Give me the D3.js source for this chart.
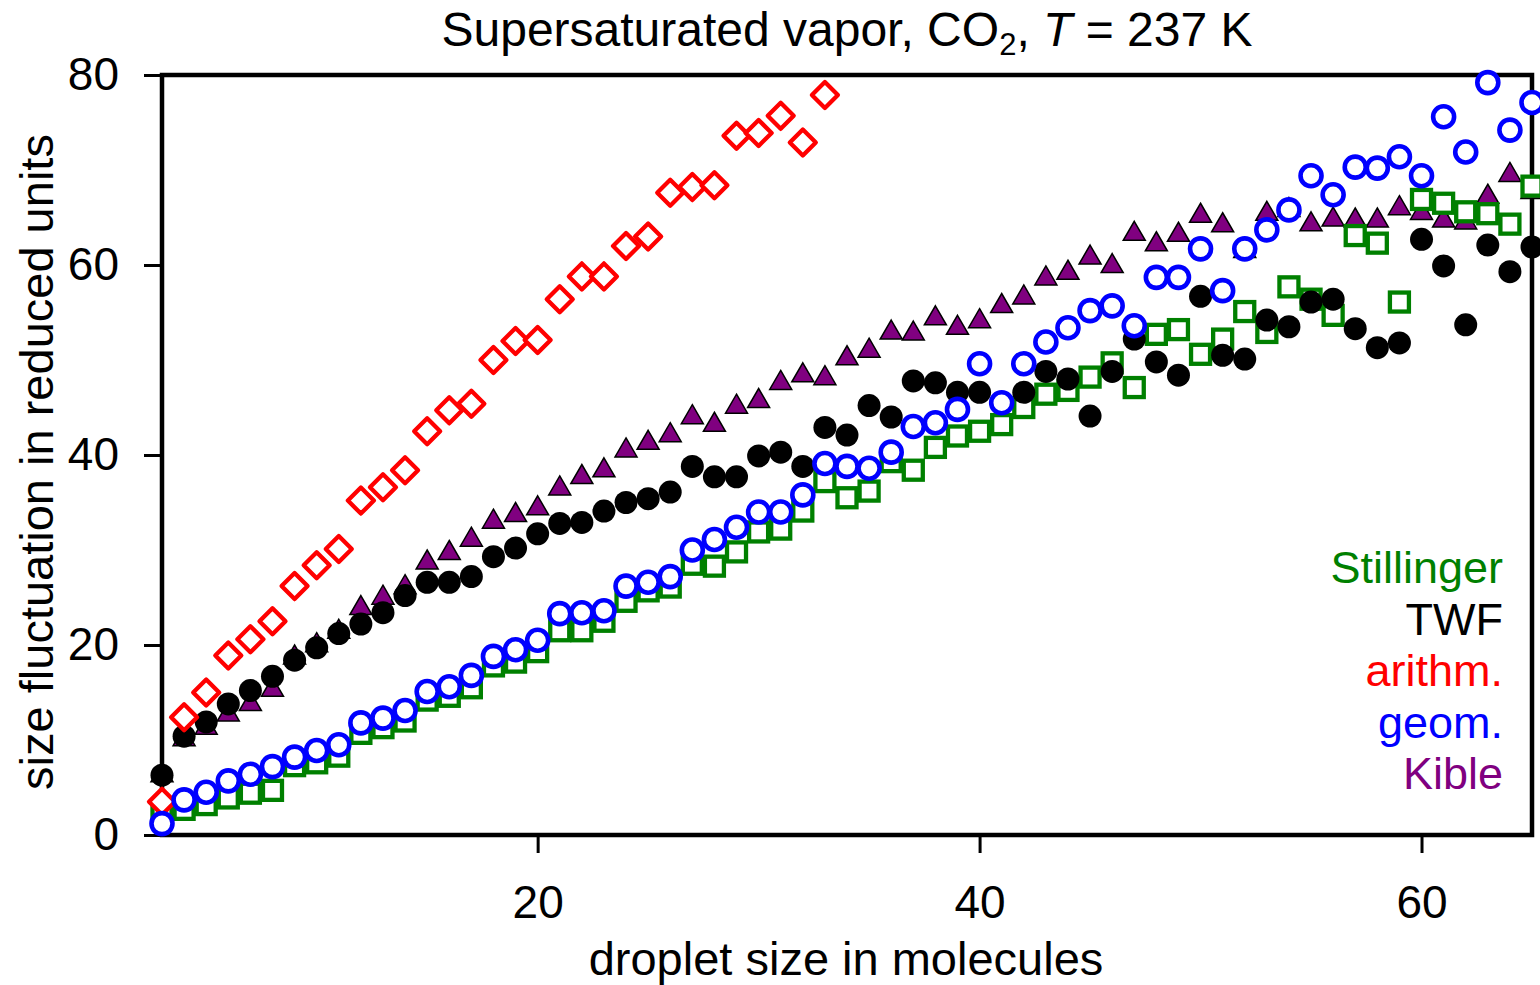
<!DOCTYPE html>
<html>
<head>
<meta charset="utf-8">
<script src="https://cdn.jsdelivr.net/npm/d3@7"></script>
<style>
  body { margin: 0; background: #fff; }
  svg text { font-family: "Liberation Sans", Arial, sans-serif; fill: #000; }
</style>
</head>
<body>
<script>
'use strict';

// droplet sizes (molecules) on the x axis
const sizes = d3.range(3, 66);
const arithmSizes = d3.range(3, 34);

// size fluctuation, reduced units
const stillinger = [2.5, 2.7, 3.2, 3.9, 4.4, 4.7, 7.3, 7.6, 8.3, 10.7, 11.3, 12.0, 14.2, 14.6, 15.5, 17.8,
  18.2, 19.3, 21.5, 21.5, 22.5, 24.6, 25.7, 26.1, 28.5, 28.3, 29.8, 31.9, 32.2, 34.1, 37.2,
  35.5, 36.2, 39.3, 38.4, 40.8, 42.0, 42.5, 43.2, 45.0, 46.4, 46.8, 48.2, 49.7, 47.1,
  52.7, 53.2, 50.6, 52.2, 55.1, 52.9, 57.7, 56.4, 54.7, 63.1, 62.3, 56.1, 66.9, 66.5, 65.6, 65.4, 64.3, 68.3];
const twf = [6.3, 10.4, 11.9, 13.8, 15.2, 16.7, 18.4, 19.7, 21.2, 22.2, 23.4, 25.2, 26.6, 26.6, 27.2, 29.3,
  30.2, 31.7, 32.8, 32.9, 34.1, 35.0, 35.4, 36.1, 38.8, 37.7, 37.7, 39.9, 40.3, 38.8, 42.9,
  42.1, 45.2, 44.0, 47.8, 47.6, 46.6, 46.6, 45.5, 46.6, 48.8, 48.0, 44.1, 48.8, 52.2,
  49.8, 48.4, 56.7, 50.5, 50.1, 54.2, 53.5, 56.1, 56.4, 53.3, 51.3, 51.8, 62.7, 59.9, 53.7, 62.1, 59.3, 61.9];
const arithm = [3.5, 12.4, 15.0, 18.9, 20.6, 22.5, 26.2, 28.4, 30.1, 35.2, 36.6, 38.4, 42.5, 44.7, 45.4, 50.0,
  52.0, 52.1, 56.4, 58.8, 58.8, 62.0, 63.0, 67.6, 68.2, 68.4, 73.6, 73.9, 75.7, 72.9, 77.9];
const geom = [1.2, 3.7, 4.5, 5.7, 6.4, 7.2, 8.2, 8.9, 9.5, 11.8, 12.3, 13.1, 15.1, 15.6, 16.8, 18.8,
  19.5, 20.5, 23.3, 23.4, 23.6, 26.2, 26.6, 27.2, 30.0, 31.1, 32.4, 34.0, 34.0, 35.8, 39.1,
  38.8, 38.6, 40.3, 43.0, 43.4, 44.8, 49.6, 45.5, 49.6, 51.9, 53.4, 55.2, 55.7, 53.6,
  58.7, 58.7, 61.7, 57.3, 61.7, 63.7, 65.8, 69.4, 67.4, 70.3, 70.2, 71.4, 69.4, 75.6, 71.9, 79.2, 74.2, 77.1];
const kible = [6.6, 10.4, 11.6, 13.0, 14.1, 15.6, 19.0, 20.3, 21.7, 24.2, 25.3, 26.4, 29.0, 30.0, 31.4, 33.3,
  34.0, 34.7, 36.8, 38.0, 38.7, 40.8, 41.6, 42.4, 44.3, 43.5, 45.4, 46.0, 47.9, 48.7, 48.4,
  50.5, 51.3, 53.2, 53.1, 54.7, 53.7, 54.4, 56.0, 56.9, 58.9, 59.5, 61.1, 60.2, 63.6,
  62.5, 63.5, 65.5, 64.5, 61.8, 65.7, 66.1, 64.6, 65.1, 65.0, 65.0, 66.3, 65.8, 65.0, 64.8, 67.5, 69.8, 68.0];

const xTicks = [20, 40, 60];
const yTicks = [0, 20, 40, 60, 80];
const legendLabels = ['Stillinger', 'TWF', 'arithm.', 'geom.', 'Kible'];
const legendColors = ['#008000', '#000000', '#ff0000', '#0000ff', '#800080'];

const width = 1540, height = 985;
const plot = { left: 162, top: 75, right: 1532, bottom: 835 };

const svg = d3.select('body').append('svg')
  .attr('width', width).attr('height', height)
  .attr('viewBox', `0 0 ${width} ${height}`)
  .attr('xmlns', 'http://www.w3.org/2000/svg');

svg.append('rect')
  .attr('width', width).attr('height', height)
  .attr('fill', '#fff');

const x = d3.scaleLinear().domain([3, 65]).range([plot.left, plot.right]);
const y = d3.scaleLinear().domain([0, 80]).range([plot.bottom, plot.top]);

// axes
const styleAxis = g => {
  g.select('.domain').remove();
  g.selectAll('.tick line').attr('stroke', '#000').attr('stroke-width', 3);
  g.selectAll('.tick text')
    .attr('font-size', 46)
    .attr('font-family', '"Liberation Sans", Arial, sans-serif')
    .attr('fill', '#000');
};

svg.append('g')
  .attr('transform', `translate(0, ${plot.bottom})`)
  .call(d3.axisBottom(x).tickValues(xTicks).tickSize(18).tickSizeOuter(0).tickPadding(32))
  .call(styleAxis);

svg.append('g')
  .attr('transform', `translate(${plot.left}, 0)`)
  .call(d3.axisLeft(y).tickValues(yTicks).tickSize(18).tickSizeOuter(0).tickPadding(25))
  .call(styleAxis);

// frame
svg.append('rect')
  .attr('x', plot.left).attr('y', plot.top)
  .attr('width', plot.right - plot.left)
  .attr('height', plot.bottom - plot.top)
  .attr('fill', 'none')
  .attr('stroke', '#000')
  .attr('stroke-width', 4.5);

// series, back to front
const pts = (xs, ys) => xs.map((n, i) => [n, ys[i]]);

svg.append('g').selectAll('path')
  .data(pts(sizes, kible))
  .join('path')
    .attr('transform', d => `translate(${x(d[0])}, ${y(d[1])})`)
    .attr('d', 'M0,-9.5L11,9.5L-11,9.5Z')
    .attr('fill', '#800080')
    .attr('stroke', '#000')
    .attr('stroke-width', 1.5)
    .attr('stroke-linejoin', 'miter');

svg.append('g').selectAll('rect')
  .data(pts(sizes, stillinger))
  .join('rect')
    .attr('x', d => x(d[0]) - 9.5)
    .attr('y', d => y(d[1]) - 9.5)
    .attr('width', 19).attr('height', 19)
    .attr('fill', '#fff')
    .attr('stroke', '#008000')
    .attr('stroke-width', 4.3);

svg.append('g').selectAll('circle')
  .data(pts(sizes, twf))
  .join('circle')
    .attr('cx', d => x(d[0]))
    .attr('cy', d => y(d[1]))
    .attr('r', 11.5)
    .attr('fill', '#000');

svg.append('g').selectAll('path')
  .data(pts(arithmSizes, arithm))
  .join('path')
    .attr('transform', d => `translate(${x(d[0])}, ${y(d[1])})`)
    .attr('d', 'M0,-13L13,0L0,13L-13,0Z')
    .attr('fill', '#fff')
    .attr('stroke', '#ff0000')
    .attr('stroke-width', 4.3)
    .attr('stroke-linejoin', 'round');

svg.append('g').selectAll('circle')
  .data(pts(sizes, geom))
  .join('circle')
    .attr('cx', d => x(d[0]))
    .attr('cy', d => y(d[1]))
    .attr('r', 10.5)
    .attr('fill', '#fff')
    .attr('stroke', '#0000ff')
    .attr('stroke-width', 4.6);

// legend
svg.append('g').selectAll('text')
  .data(legendLabels)
  .join('text')
    .attr('x', 1503)
    .attr('y', (d, i) => 583 + i * 51.5)
    .attr('text-anchor', 'end')
    .attr('font-size', 45)
    .style('fill', (d, i) => legendColors[i])
    .text(d => d);

// title
const title = svg.append('text')
  .attr('x', (plot.left + plot.right) / 2)
  .attr('y', 46)
  .attr('text-anchor', 'middle')
  .attr('font-size', 48);
title.append('tspan').text('Supersaturated vapor, CO');
title.append('tspan').attr('font-size', 31).attr('dy', 9).text('2');
title.append('tspan').attr('dy', -9).text(', ');
title.append('tspan').attr('font-style', 'italic').text('T');
title.append('tspan').text(' = 237 K');

// axis titles
svg.append('text')
  .attr('x', 846)
  .attr('y', 975)
  .attr('text-anchor', 'middle')
  .attr('font-size', 47)
  .text('droplet size in molecules');

svg.append('text')
  .attr('transform', 'translate(53, 462) rotate(-90)')
  .attr('text-anchor', 'middle')
  .attr('font-size', 47)
  .text('size fluctuation in reduced units');
</script>
</body>
</html>
